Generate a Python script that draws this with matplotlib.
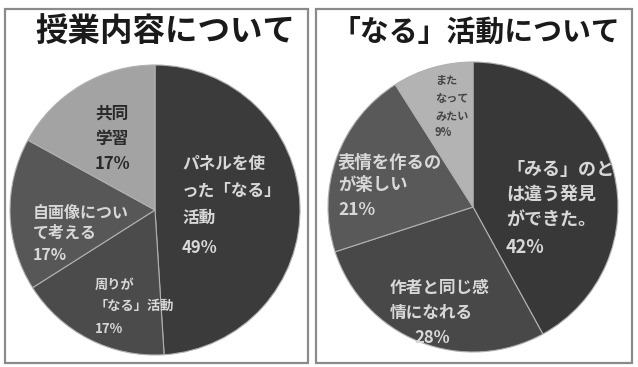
import matplotlib.pyplot as plt
from matplotlib.patches import Rectangle

plt.rcParams['font.family'] = ['Noto Sans CJK JP', 'DejaVu Sans']

# 左: 授業内容について
left_title = "授業内容について"
left_labels = ["パネルを使\nった「なる」\n活動", "周りが\n「なる」活動", "自画像につい\nて考える", "共同\n学習"]
left_values = [49, 17, 17, 17]
left_colors = ["#3b3b3b", "#4b4b4b", "#575757", "#a3a3a3"]

# 右: 「なる」活動について
right_title = "「なる」活動について"
right_labels = ["「みる」のと\nは違う発見\nができた。", "作者と同じ感\n情になれる", "表情を作るの\nが楽しい", "また\nなって\nみたい"]
right_values = [42, 28, 21, 9]
right_colors = ["#383838", "#484848", "#595959", "#b3b3b3"]

W, H = 638, 367
fig = plt.figure(figsize=(W / 100, H / 100), dpi=100)


def px(x, y):
    return x / W, 1 - y / H


def draw_pie(cx, cy, r, values, colors):
    ax = fig.add_axes([(cx - r) / W, (H - cy - r) / H, 2 * r / W, 2 * r / H])
    ax.pie(values, colors=colors, startangle=90, counterclock=False,
           wedgeprops=dict(edgecolor="#b0b0b0", linewidth=0.8))
    ax.set_xlim(-1, 1)
    ax.set_ylim(-1, 1)
    ax.set_aspect("auto")
    ax.axis("off")
    return ax


# 枠
for x0, x1 in [(5, 308), (316, 632)]:
    fig.add_artist(Rectangle(px(x0, 363), (x1 - x0) / W, (363 - 9) / H,
                             transform=fig.transFigure, fill=False,
                             edgecolor="#8a8a8a", linewidth=1.6))

draw_pie(155, 210, 145, left_values, left_colors)
draw_pie(473, 207, 145, right_values, right_colors)

fig.text(*px(165, 32), left_title, ha="center", va="center", fontsize=23.4, fontweight="bold", color="#1a1a1a")
fig.text(*px(476, 32), right_title, ha="center", va="center", fontsize=20.8, fontweight="bold", color="#1a1a1a")

light = "#d8d8d8"
dark = "#2a2a2a"


def put_label(lab, val, x, y, fs, ls, c, ha, pct_dx):
    n = lab.count("\n") + 1
    fig.text(*px(x, y), lab, ha=ha, va="top", fontsize=fs, color=c,
             fontweight="bold", linespacing=ls)
    step = 1.42 * fs * ls
    fig.text(*px(x + pct_dx, y + n * step), f"{val}%", ha=ha, va="top",
             fontsize=fs, color=c, fontweight="bold")


# x, top y, size, linespacing, colour, align, percent offset
left_pos = [(182, 155, 12, 1.65, light, "left", 0), (95, 278, 9.5, 1.63, light, "left", 0),
            (33, 205, 11.5, 1.29, light, "left", 0), (112, 105, 12, 1.47, dark, "center", 0)]
for lab, val, p in zip(left_labels, left_values, left_pos):
    put_label(lab, val, *p)

right_pos = [(506, 160, 13, 1.41, light, "left", 0), (390, 279, 12, 1.47, light, "left", 24),
             (338, 154, 12.5, 1.32, light, "left", 0), (435, 74, 8, 1.52, "#444444", "left", 0)]
for lab, val, p in zip(right_labels, right_values, right_pos):
    put_label(lab, val, *p)

fig.savefig("out.png", dpi=100, facecolor="white")
